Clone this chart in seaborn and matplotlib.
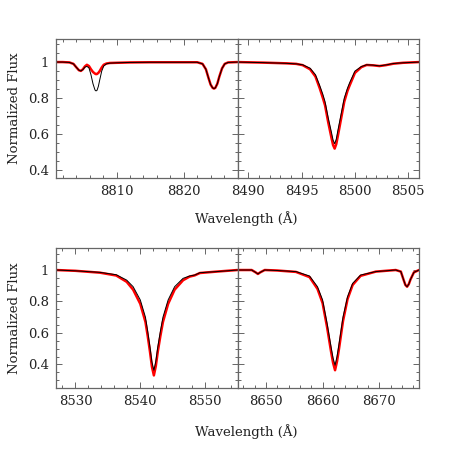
import numpy as np
import pandas as pd
import matplotlib
matplotlib.use('Agg')
import matplotlib.pyplot as plt
from matplotlib.ticker import MultipleLocator, FormatStrFormatter
import seaborn as sns

# ---- panel 1 : 8801-8828 A ----
wl_a = [8801.0, 8802.0, 8803.0, 8803.6, 8804.0, 8804.4, 8804.7, 8805.0, 8805.3, 8805.6,
        8805.9, 8806.2, 8806.5, 8806.8, 8806.95, 8807.1, 8807.3, 8807.5, 8807.8, 8808.1,
        8808.5, 8809.0, 8810.0, 8812.0, 8815.0, 8820.0, 8822.0, 8822.8, 8823.3, 8823.7,
        8824.0, 8824.3, 8824.5, 8824.7, 8825.0, 8825.3, 8825.7, 8826.1, 8826.6, 8828.0]
black_a = [1.0, 1.0, 0.998, 0.99, 0.972, 0.955, 0.951, 0.958, 0.972, 0.976,
           0.968, 0.93, 0.88, 0.845, 0.84, 0.843, 0.865, 0.9, 0.95, 0.978,
           0.99, 0.994, 0.996, 0.998, 0.999, 0.999, 0.999, 0.99, 0.96, 0.91,
           0.875, 0.857, 0.853, 0.857, 0.88, 0.92, 0.965, 0.99, 0.998, 1.0]
red_a = [1.0, 1.0, 0.998, 0.99, 0.972, 0.955, 0.951, 0.96, 0.976, 0.985,
         0.978, 0.96, 0.945, 0.936, 0.933, 0.934, 0.94, 0.95, 0.97, 0.985,
         0.992, 0.995, 0.996, 0.998, 0.999, 0.999, 0.999, 0.99, 0.96, 0.91,
         0.875, 0.857, 0.853, 0.857, 0.88, 0.92, 0.965, 0.99, 0.998, 1.0]

# ---- panel 2 : 8489-8506 A ----
wl_b = [8489.0, 8491.4, 8493.6, 8494.5, 8495.1, 8495.8, 8496.3, 8496.7, 8497.0, 8497.2,
        8497.5, 8497.8, 8497.95, 8498.1, 8498.25, 8498.4, 8498.7, 8499.0, 8499.3, 8499.5,
        8500.0, 8500.6, 8501.1, 8501.7, 8502.3, 8502.9, 8503.6, 8504.5, 8506.0]
black_b = [1.0, 0.997, 0.993, 0.99, 0.985, 0.966, 0.93, 0.87, 0.82, 0.78,
           0.69, 0.61, 0.568, 0.547, 0.572, 0.62, 0.71, 0.80, 0.855, 0.885,
           0.95, 0.975, 0.985, 0.983, 0.979, 0.984, 0.992, 0.996, 1.0]
red_b = [1.0, 0.997, 0.993, 0.99, 0.983, 0.96, 0.92, 0.855, 0.80, 0.76,
         0.665, 0.58, 0.54, 0.52, 0.545, 0.59, 0.685, 0.78, 0.84, 0.87,
         0.94, 0.972, 0.984, 0.982, 0.978, 0.983, 0.991, 0.996, 1.0]

# ---- panel 3 : 8527-8555 A ----
wl_c = [8527.0, 8530.0, 8533.8, 8536.3, 8537.9, 8538.9, 8540.0, 8540.8, 8541.15, 8541.5,
        8541.8, 8542.1, 8542.4, 8542.7, 8543.1, 8543.5, 8544.3, 8545.3, 8546.6, 8547.6,
        8548.4, 8549.2, 8551.8, 8555.0]
black_c = [1.0, 0.995, 0.985, 0.97, 0.936, 0.894, 0.81, 0.70, 0.61, 0.51,
           0.415, 0.363, 0.42, 0.51, 0.61, 0.70, 0.81, 0.894, 0.947, 0.962,
           0.968, 0.983, 0.99, 1.0]
red_c = [1.0, 0.995, 0.983, 0.965, 0.925, 0.875, 0.785, 0.67, 0.58, 0.48,
         0.385, 0.33, 0.39, 0.48, 0.58, 0.67, 0.785, 0.875, 0.935, 0.958,
         0.966, 0.981, 0.99, 1.0]

# ---- panel 4 : 8645-8677 A ----
wl_d = [8645.0, 8647.5, 8648.2, 8648.6, 8649.0, 8649.8, 8652.0, 8655.3, 8657.7, 8659.1,
        8660.0, 8660.8, 8661.5, 8661.85, 8662.2, 8662.55, 8662.9, 8663.6, 8664.4, 8665.3,
        8666.7, 8669.4, 8672.9, 8673.8, 8674.3, 8674.6, 8674.9, 8675.2, 8675.5, 8676.1,
        8677.0]
black_d = [1.0, 1.0, 0.985, 0.975, 0.985, 1.0, 0.997, 0.99, 0.962, 0.894,
           0.81, 0.66, 0.51, 0.44, 0.395, 0.45, 0.53, 0.70, 0.83, 0.915,
           0.968, 0.99, 1.0, 0.99, 0.936, 0.905, 0.894, 0.91, 0.94, 0.985,
           1.0]
red_d = [1.0, 1.0, 0.985, 0.975, 0.985, 1.0, 0.997, 0.988, 0.955, 0.88,
         0.79, 0.635, 0.48, 0.41, 0.363, 0.42, 0.50, 0.675, 0.815, 0.905,
         0.963, 0.99, 1.0, 0.99, 0.936, 0.905, 0.894, 0.91, 0.94, 0.985,
         1.0]

sns.set_style('ticks')
plt.rcParams['font.family'] = ['DejaVu Serif']
plt.rcParams['font.size'] = 9.5

fig = plt.figure(figsize=(4.58, 4.58), dpi=100)
W = H = 458.0

def box(x0, x1, ytop, ybot):
    return [x0 / W, 1 - ybot / H, (x1 - x0) / W, (ybot - ytop) / H]

panels = [
    (wl_a, black_a, red_a, (8801, 8828), (0.357, 1.128), 10, 2, box(56, 237.5, 39, 178), True),
    (wl_b, black_b, red_b, (8489, 8506), (0.357, 1.128), 5, 1, box(237.5, 419, 39, 178), False),
    (wl_c, black_c, red_c, (8527, 8555), (0.25, 1.14), 10, 2, box(56, 237.5, 248, 388), True),
    (wl_d, black_d, red_d, (8645, 8677), (0.25, 1.14), 10, 2, box(237.5, 419, 248, 388), False),
]

edge = '#666666'
for wl, blk, red, xl, yl, maj, mnr, pos, show_y in panels:
    ax = fig.add_axes(pos)
    df = pd.DataFrame({'wl': wl, 'black': blk, 'red': red})
    sns.lineplot(data=df, x='wl', y='red', ax=ax, color='red', lw=1.8)
    sns.lineplot(data=df, x='wl', y='black', ax=ax, color='black', lw=0.7)
    ax.set_xlim(*xl)
    ax.set_ylim(*yl)
    ax.set_xlabel('')
    ax.set_ylabel('')
    ax.xaxis.set_major_locator(MultipleLocator(maj))
    ax.xaxis.set_minor_locator(MultipleLocator(mnr))
    ax.yaxis.set_major_locator(MultipleLocator(0.2))
    ax.yaxis.set_minor_locator(MultipleLocator(0.05))
    ax.yaxis.set_major_formatter(FormatStrFormatter('%g'))
    ax.tick_params(which='both', direction='in', top=True, right=True,
                   color=edge, labelcolor='#222222', labelsize=9.5)
    ax.tick_params(which='major', length=4.5, width=0.7, pad=5)
    ax.tick_params(which='minor', length=2.2, width=0.7)
    if not show_y:
        ax.tick_params(axis='y', labelleft=False)
    for s in ax.spines.values():
        s.set_visible(True)
        s.set_color(edge)
        s.set_linewidth(0.9)

fig.text(15 / W, 1 - 108.5 / H, 'Normalized Flux', rotation=90, ha='center', va='center',
         fontsize=9.5, color='#222222')
fig.text(15 / W, 1 - 318 / H, 'Normalized Flux', rotation=90, ha='center', va='center',
         fontsize=9.5, color='#222222')
fig.text(246 / W, 1 - 219 / H, 'Wavelength (Å)', ha='center', va='center',
         fontsize=9.5, color='#222222')
fig.text(246 / W, 1 - 431.7 / H, 'Wavelength (Å)', ha='center', va='center',
         fontsize=9.5, color='#222222')

fig.savefig('out.png', dpi=100)
